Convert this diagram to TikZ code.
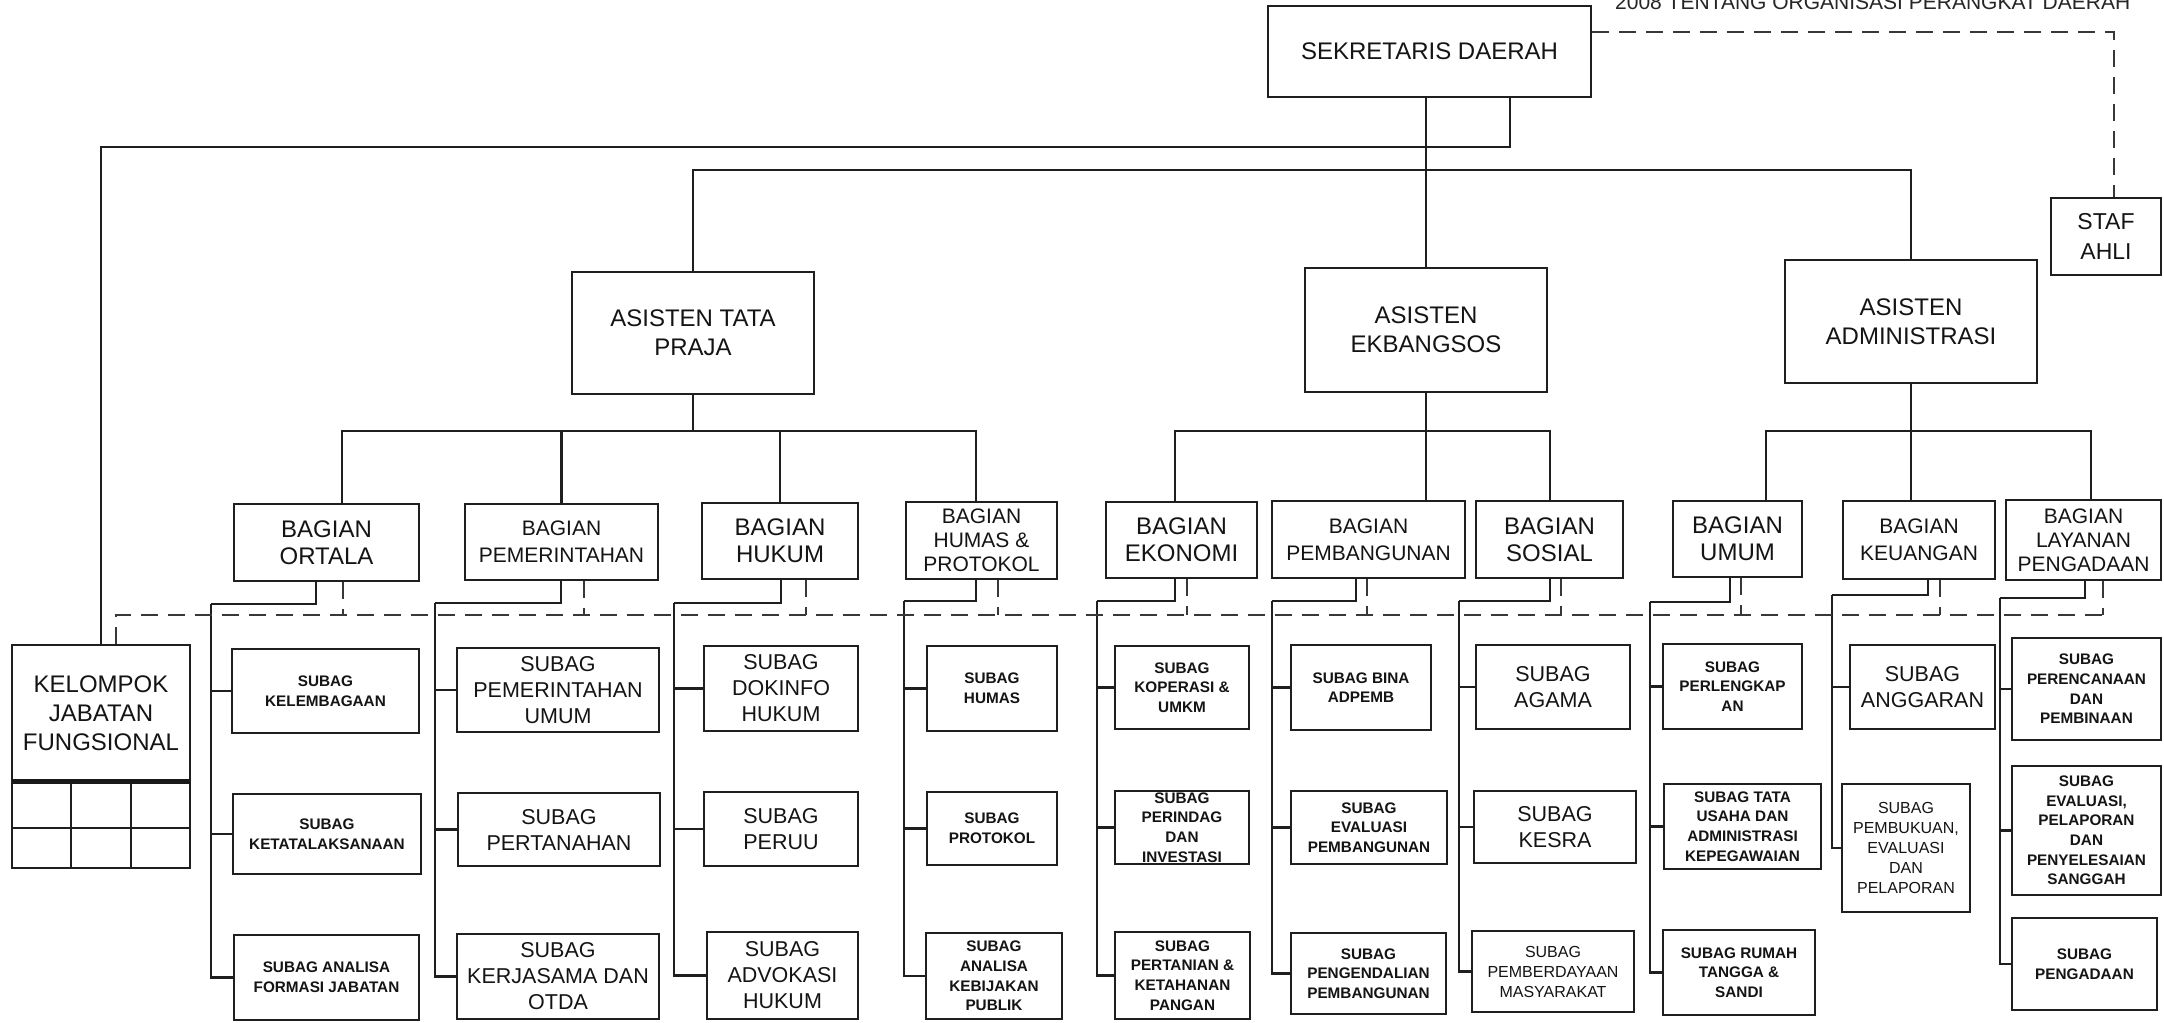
\documentclass[tikz,border=0pt]{standalone}
\usepackage{fontspec}
\setmainfont{Liberation Sans}
\tikzset{
  ln/.style={line width=2.9pt, draw=black!88},
  box/.style={ln, rectangle, inner sep=0pt, align=center, fill=white, text=black!92},
  dsh/.style={line width=2.6pt, draw=black!78, dash pattern=on 17pt off 10pt},
  fA/.style={font=\fontsize{24}{29}\selectfont},
  fT/.style={font=\fontsize{23}{30}\selectfont},
  fB/.style={font=\fontsize{24}{27}\selectfont},
  fB2/.style={font=\fontsize{21}{27}\selectfont},
  fB3/.style={font=\fontsize{21}{24}\selectfont},
  fC/.style={font=\fontsize{21.5}{26}\selectfont},
  fS/.style={font=\bfseries\fontsize{15.3}{19.6}\selectfont},
  fR/.style={font=\fontsize{16}{20}\selectfont},
}
% [style]{name}{x1}{y1}{x2}{y2}{text}
\newcommand{\bx}[7][]{\node[box,#1,minimum width={#5-#3},minimum height={#6-#4}] (#2) at ({(#3+#5)/2},{(#4+#6)/2}) {#7};}
% {bagian}{x drop}{y elbow}{x spine}{x dashed}
\newcommand{\brk}[5]{%
  \coordinate (#1-a) at (#2,#3);
  \coordinate (#1-c) at (#4,#3);
  \coordinate (#1-d) at (#5,615);
  \draw[ln] (#1.south -| #1-a) -- (#1-a) -- (#1-c);
  \draw[dsh] (#1.south -| #1-d) -- (#1-d);
}
\newcommand{\brn}[2]{\draw[ln] (#1-c |- #2.west) -- (#2.west);}
\newcommand{\spn}[2]{\draw[ln] (#1-c) |- (#2.west);}
\begin{document}
\begin{tikzpicture}[x=1pt,y=-1pt]
\fill[white] (0,0) rectangle (2164,1023);
\useasboundingbox (0,0) rectangle (2164,1023);

% title fragment (cut at top edge)
\node[anchor=base west, inner sep=0pt, font=\fontsize{21}{25}\selectfont, text=black!85] (ttl) at (1615,9) {2008 TENTANG ORGANISASI PERANGKAT DAERAH};

% top level
\bx[fA]{sekda}{1268}{6}{1591}{97}{SEKRETARIS DAERAH}
\bx[fT]{staf}{2051}{198}{2161}{275}{STAF\\AHLI}
\bx[fA]{atp}{572}{272}{814}{394}{ASISTEN TATA\\PRAJA}
\bx[fA]{aek}{1305}{268}{1547}{392}{ASISTEN\\EKBANGSOS}
\bx[fA]{aad}{1785}{260}{2037}{383}{ASISTEN\\ADMINISTRASI}

% kelompok jabatan fungsional
\bx[fA]{kjf}{12}{645}{190}{781}{KELOMPOK\\JABATAN\\FUNGSIONAL}
\draw[ln] (12,781) rectangle (190,868);
\draw[ln] (12,828) -- (190,828);
\draw[ln] (71,781) -- (71,868);
\draw[ln] (131,781) -- (131,868);
\draw[line width=5pt, black!90] (12,781) -- (190,781);

% bagian
\bx[fB]{ortala}{234}{504}{419}{581}{BAGIAN\\ORTALA}
\bx[fB2]{pem}{465}{504}{658}{580}{BAGIAN\\PEMERINTAHAN}
\bx[fB]{hukum}{702}{503}{858}{579}{BAGIAN\\HUKUM}
\bx[fB3]{humas}{906}{502}{1057}{579}{BAGIAN\\HUMAS \&\\PROTOKOL}
\bx[fB]{ekon}{1106}{502}{1257}{578}{BAGIAN\\EKONOMI}
\bx[fB2]{pemb}{1272}{501}{1465}{578}{BAGIAN\\PEMBANGUNAN}
\bx[fB]{sosial}{1476}{501}{1623}{578}{BAGIAN\\SOSIAL}
\bx[fB]{umum}{1673}{501}{1802}{577}{BAGIAN\\UMUM}
\bx[fB2]{keu}{1843}{501}{1995}{579}{BAGIAN\\KEUANGAN}
\bx[fB3]{lay}{2006}{500}{2161}{580}{BAGIAN\\LAYANAN\\PENGADAAN}

% subag
\bx[fS]{s11}{232}{649}{419}{733}{SUBAG\\KELEMBAGAAN}
\bx[fS]{s12}{233}{794}{421}{874}{SUBAG\\KETATALAKSANAAN}
\bx[fS]{s13}{234}{935}{419}{1020}{SUBAG ANALISA\\FORMASI JABATAN}

\bx[fC]{s21}{457}{648}{659}{732}{SUBAG\\PEMERINTAHAN\\UMUM}
\bx[fC]{s22}{458}{793}{660}{866}{SUBAG\\PERTANAHAN}
\bx[fC]{s23}{457}{934}{659}{1019}{SUBAG\\KERJASAMA DAN\\OTDA}

\bx[fC]{s31}{704}{646}{858}{731}{SUBAG\\DOKINFO\\HUKUM}
\bx[fC]{s32}{704}{792}{858}{866}{SUBAG\\PERUU}
\bx[fC]{s33}{707}{932}{858}{1019}{SUBAG\\ADVOKASI\\HUKUM}

\bx[fS]{s41}{927}{646}{1057}{731}{SUBAG\\HUMAS}
\bx[fS]{s42}{927}{792}{1057}{865}{SUBAG\\PROTOKOL}
\bx[fS]{s43}{926}{933}{1062}{1019}{SUBAG\\ANALISA\\KEBIJAKAN\\PUBLIK}

\bx[fS]{s51}{1115}{646}{1249}{729}{SUBAG\\KOPERASI \&\\UMKM}
\bx[fS]{s52}{1115}{791}{1249}{864}{SUBAG\\PERINDAG\\DAN\\INVESTASI}
\bx[fS]{s53}{1115}{932}{1250}{1019}{SUBAG\\PERTANIAN \&\\KETAHANAN\\PANGAN}

\bx[fS]{s61}{1291}{645}{1431}{730}{SUBAG BINA\\ADPEMB}
\bx[fS]{s62}{1291}{791}{1447}{864}{SUBAG\\EVALUASI\\PEMBANGUNAN}
\bx[fS]{s63}{1291}{933}{1446}{1014}{SUBAG\\PENGENDALIAN\\PEMBANGUNAN}

\bx[fC]{s71}{1476}{645}{1630}{729}{SUBAG\\AGAMA}
\bx[fC]{s72}{1474}{791}{1636}{863}{SUBAG\\KESRA}
\bx[fR]{s73}{1472}{931}{1634}{1012}{SUBAG\\PEMBERDAYAAN\\MASYARAKAT}

\bx[fS]{s81}{1663}{644}{1802}{729}{SUBAG\\PERLENGKAP\\AN}
\bx[fS]{s82}{1664}{784}{1821}{869}{SUBAG TATA\\USAHA DAN\\ADMINISTRASI\\KEPEGAWAIAN}
\bx[fS]{s83}{1663}{930}{1815}{1015}{SUBAG RUMAH\\TANGGA \&\\SANDI}

\bx[fC]{s91}{1850}{645}{1995}{729}{SUBAG\\ANGGARAN}
\bx[fR]{s92}{1842}{784}{1970}{912}{SUBAG\\PEMBUKUAN,\\EVALUASI\\DAN\\PELAPORAN}

\bx[fS]{s01}{2012}{638}{2161}{740}{SUBAG\\PERENCANAAN\\DAN\\PEMBINAAN}
\bx[fS]{s02}{2012}{766}{2161}{895}{SUBAG\\EVALUASI,\\PELAPORAN\\DAN\\PENYELESAIAN\\SANGGAH}
\bx[fS]{s03}{2012}{918}{2157}{1010}{SUBAG\\PENGADAAN}

% top connectors
\coordinate (j1) at (1510,147);
\draw[ln] (sekda.south -| j1) -- (j1) -| (kjf.north);
\draw[ln] (sekda.south -| aek.north) -- (aek.north);
\coordinate (j2) at (1426,170);
\draw[ln] (atp.north) |- (j2) -| (aad.north);
\coordinate (d0) at (2114,32);
\draw[dsh] (sekda.east |- d0) -- (d0) -- (staf.north -| d0);

% asisten -> bagian
\coordinate (c1L) at (342,431); \coordinate (c1R) at (976,431);
\draw[ln] (atp.south) -- (atp.south |- c1L);
\draw[ln] (ortala.north -| c1L) -- (c1L) -- (c1R) -- (humas.north -| c1R);
\draw[ln] (pem.north |- c1L) -- (pem.north);
\draw[ln] (hukum.north |- c1L) -- (hukum.north);

\coordinate (c2L) at (1175,431); \coordinate (c2R) at (1550,431);
\draw[ln] (aek.south) -- (aek.south |- pemb.north);
\draw[ln] (ekon.north -| c2L) -- (c2L) -- (c2R) -- (sosial.north -| c2R);

\coordinate (c3L) at (1766,431); \coordinate (c3R) at (2091,431);
\draw[ln] (aad.south) -- (aad.south |- keu.north);
\draw[ln] (umum.north -| c3L) -- (c3L) -- (c3R) -- (lay.north -| c3R);

% bagian -> subag
\brk{ortala}{316}{604}{211}{343}
\brn{ortala}{s11}\brn{ortala}{s12}\spn{ortala}{s13}
\brk{pem}{561}{603}{435}{584}
\brn{pem}{s21}\brn{pem}{s22}\spn{pem}{s23}
\brk{hukum}{781}{603}{674}{806}
\brn{hukum}{s31}\brn{hukum}{s32}\spn{hukum}{s33}
\brk{humas}{976}{601}{904}{998}
\brn{humas}{s41}\brn{humas}{s42}\spn{humas}{s43}
\brk{ekon}{1175}{601}{1097}{1187}
\brn{ekon}{s51}\brn{ekon}{s52}\spn{ekon}{s53}
\brk{pemb}{1356}{601}{1272}{1367}
\brn{pemb}{s61}\brn{pemb}{s62}\spn{pemb}{s63}
\brk{sosial}{1550}{601}{1459}{1561}
\brn{sosial}{s71}\brn{sosial}{s72}\spn{sosial}{s73}
\brk{umum}{1730}{602}{1650}{1741}
\brn{umum}{s81}\brn{umum}{s82}\spn{umum}{s83}
\brk{keu}{1928}{595}{1832}{1940}
\brn{keu}{s91}\spn{keu}{s92}
\brk{lay}{2085}{598}{2000}{2103}
\brn{lay}{s01}\brn{lay}{s02}\spn{lay}{s03}

% dashed line to kelompok jabatan fungsional
\coordinate (kd) at (116,615);
\draw[dsh] (kjf.north -| kd) -- (kd) -- (lay-d);
\end{tikzpicture}
\end{document}
